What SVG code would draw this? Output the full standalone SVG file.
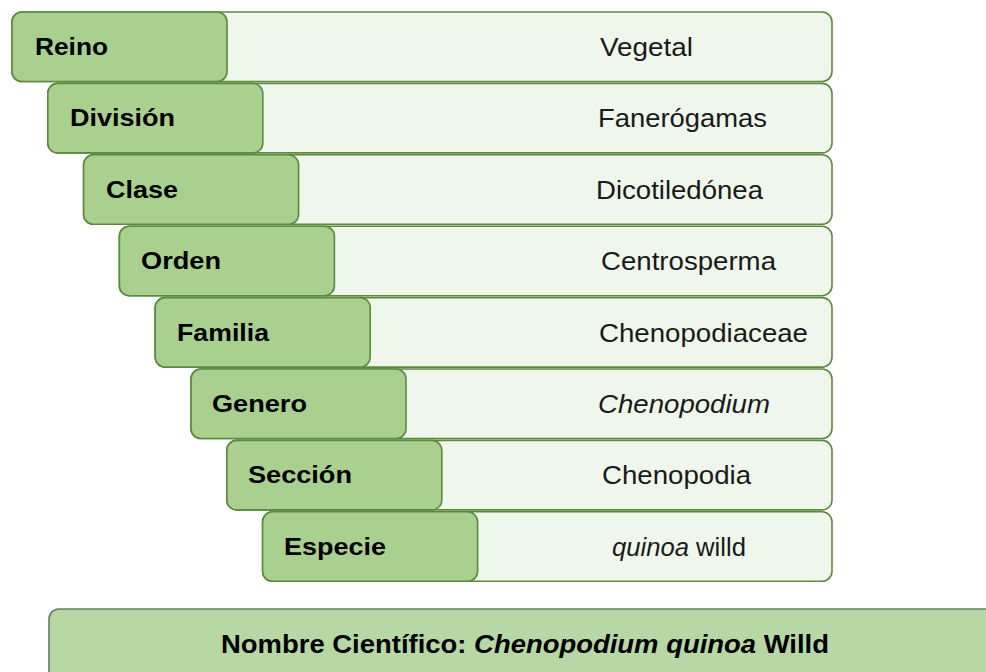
<svg xmlns="http://www.w3.org/2000/svg" width="986" height="672" viewBox="0 0 986 672">
<style>
.bg{fill:#eff6ec;stroke:#5b8a3f;stroke-width:1.6}
.tab{fill:#a9d08e;stroke:#5b8a3f;stroke-width:1.6}
.lbl{font-family:"Liberation Sans",Arial,sans-serif;font-weight:bold;font-size:24px;fill:#000}
.val{font-family:"Liberation Sans",Arial,sans-serif;font-size:25px;fill:#1a1a1a}
.bar{fill:#b7d7a5;stroke:#687f5c;stroke-width:1.6}
.ttl{font-family:"Liberation Sans",Arial,sans-serif;font-weight:bold;font-size:25px;fill:#000}
</style>
<rect x="0" y="0" width="986" height="672" fill="#ffffff"/>
<g id="row-reino">
<rect class="bg" x="12" y="12" width="820" height="69.5" rx="10"/>
<rect class="tab" x="12" y="12" width="215" height="69.5" rx="10"/>
<text class="lbl" x="35" y="55" textLength="73" lengthAdjust="spacingAndGlyphs">Reino</text>
<text class="val" x="600" y="56" textLength="93" lengthAdjust="spacingAndGlyphs">Vegetal</text>
</g>
<g id="row-division">
<rect class="bg" x="47.8" y="83.4" width="784.2" height="69.5" rx="10"/>
<rect class="tab" x="47.8" y="83.4" width="215" height="69.5" rx="10"/>
<text class="lbl" x="70" y="126.4" textLength="105" lengthAdjust="spacingAndGlyphs">División</text>
<text class="val" x="598" y="127.4" textLength="169" lengthAdjust="spacingAndGlyphs">Fanerógamas</text>
</g>
<g id="row-clase">
<rect class="bg" x="83.6" y="154.8" width="748.4" height="69.5" rx="10"/>
<rect class="tab" x="83.6" y="154.8" width="215" height="69.5" rx="10"/>
<text class="lbl" x="106" y="197.8" textLength="72" lengthAdjust="spacingAndGlyphs">Clase</text>
<text class="val" x="596" y="198.8" textLength="167" lengthAdjust="spacingAndGlyphs">Dicotiledónea</text>
</g>
<g id="row-orden">
<rect class="bg" x="119.4" y="226.2" width="712.6" height="69.5" rx="10"/>
<rect class="tab" x="119.4" y="226.2" width="215" height="69.5" rx="10"/>
<text class="lbl" x="141" y="269.2" textLength="80" lengthAdjust="spacingAndGlyphs">Orden</text>
<text class="val" x="601" y="270.2" textLength="175" lengthAdjust="spacingAndGlyphs">Centrosperma</text>
</g>
<g id="row-familia">
<rect class="bg" x="155.2" y="297.6" width="676.8" height="69.5" rx="10"/>
<rect class="tab" x="155.2" y="297.6" width="215" height="69.5" rx="10"/>
<text class="lbl" x="177" y="340.6" textLength="92" lengthAdjust="spacingAndGlyphs">Familia</text>
<text class="val" x="599" y="341.6" textLength="209" lengthAdjust="spacingAndGlyphs">Chenopodiaceae</text>
</g>
<g id="row-genero">
<rect class="bg" x="191" y="369" width="641" height="69.5" rx="10"/>
<rect class="tab" x="191" y="369" width="215" height="69.5" rx="10"/>
<text class="lbl" x="212" y="412" textLength="95" lengthAdjust="spacingAndGlyphs">Genero</text>
<text class="val" x="598" y="413" font-style="italic" textLength="172" lengthAdjust="spacingAndGlyphs">Chenopodium</text>
</g>
<g id="row-seccion">
<rect class="bg" x="226.8" y="440.4" width="605.2" height="69.5" rx="10"/>
<rect class="tab" x="226.8" y="440.4" width="215" height="69.5" rx="10"/>
<text class="lbl" x="248" y="483.4" textLength="104" lengthAdjust="spacingAndGlyphs">Sección</text>
<text class="val" x="602" y="484.4" textLength="149" lengthAdjust="spacingAndGlyphs">Chenopodia</text>
</g>
<g id="row-especie">
<rect class="bg" x="262.6" y="511.8" width="569.4" height="69.5" rx="10"/>
<rect class="tab" x="262.6" y="511.8" width="215" height="69.5" rx="10"/>
<text class="lbl" x="284" y="554.8" textLength="102" lengthAdjust="spacingAndGlyphs">Especie</text>
<text class="val" x="612" y="555.8" textLength="134" lengthAdjust="spacingAndGlyphs"><tspan font-style="italic">quinoa</tspan> willd</text>
</g>
<g id="nombre-cientifico">
<rect class="bar" x="49" y="609" width="960" height="90" rx="10"/>
<text class="ttl" x="221" y="653" textLength="608" lengthAdjust="spacingAndGlyphs">Nombre Científico: <tspan font-style="italic">Chenopodium quinoa</tspan> Willd</text>
</g>
<g id="connectors"></g>
</svg>
